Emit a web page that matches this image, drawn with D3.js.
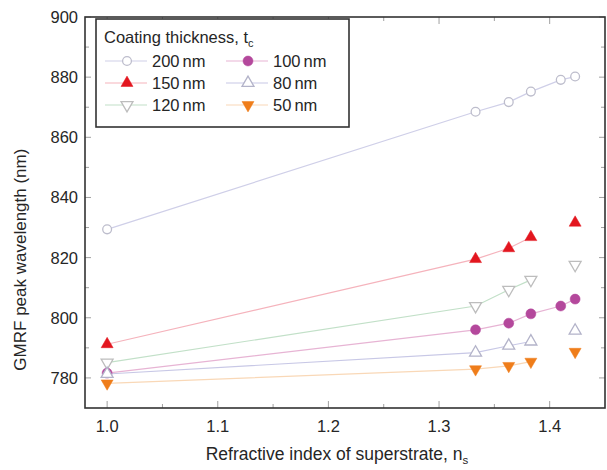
<!DOCTYPE html>
<html lang="en">
<head>
<meta charset="UTF-8">
<title>GMRF peak wavelength vs superstrate index</title>
<script src="https://d3js.org/d3.v7.min.js"></script>
<style>
    body { margin: 0; background: #fff; }
    svg text { font-family: "Liberation Sans", Arial, Helvetica, sans-serif; fill: #262626; }
</style>
</head>
<body>
<script>

// refractive index of the superstrate (x values)
const ns = [1.0, 1.333, 1.363, 1.383, 1.41, 1.423]

// peak wavelength (nm) for each coating thickness, null = not measured / not joined
const wl200 = [829.4, 868.5, 871.7, 875.2, 879.1, 880.2]
const wl150 = [791.2, 819.5, 823.1, 826.8, null, 831.6]
const wl120 = [785.1, 803.9, 809.3, 812.6, null, 817.6]
const wl100 = [781.6, 796.0, 798.2, 801.3, 803.9, 806.2]
const wl80  = [781.3, 788.4, 790.7, 792.1, null, 795.7]
const wl50  = [778.2, 782.9, 784.0, 785.4, null, 788.7]

const xTicks = [1.0, 1.1, 1.2, 1.3, 1.4]
const yTicks = [780, 800, 820, 840, 860, 880, 900]

const series = [
    {label: "200 nm", values: wl200, shape: "circle",  fill: "none",    stroke: "#bdbdcc", line: "#cfcfe8"},
    {label: "150 nm", values: wl150, shape: "up",      fill: "#e3161f", stroke: "#e3161f", line: "#f5b3bc"},
    {label: "120 nm", values: wl120, shape: "down",    fill: "none",    stroke: "#bdbdbd", line: "#c2e0c8"},
    {label: "100 nm", values: wl100, shape: "circle",  fill: "#b4489c", stroke: "#b4489c", line: "#e7b4d4"},
    {label: "80 nm",  values: wl80,  shape: "up",      fill: "none",    stroke: "#b3b3c9", line: "#c8c8e6"},
    {label: "50 nm",  values: wl50,  shape: "down",    fill: "#ef7d1a", stroke: "#ef7d1a", line: "#f9d8b7"}
]

const W = 607, H = 470
const MARGIN = {TOP: 17, RIGHT: 2, BOTTOM: 62, LEFT: 85}
const WIDTH = W - MARGIN.LEFT - MARGIN.RIGHT
const HEIGHT = H - MARGIN.TOP - MARGIN.BOTTOM

const svg = d3.select("body").append("svg")
    .attr("width", W)
    .attr("height", H)

const g = svg.append("g")
    .attr("transform", `translate(${MARGIN.LEFT}, ${MARGIN.TOP})`)

const x = d3.scaleLinear().domain([0.98, 1.45]).range([0, WIDTH])
const y = d3.scaleLinear().domain([770, 900]).range([HEIGHT, 0])

// inward ticks, major and minor, on all four sides
const tickCol = "#a0a0a0"
function vTicks(vals, len, side) {
    vals.forEach(v => {
        const yy = y(v)
        const x0 = side === "left" ? 0 : WIDTH
        const x1 = side === "left" ? len : WIDTH - len
        g.append("line").attr("x1", x0).attr("x2", x1).attr("y1", yy).attr("y2", yy)
            .attr("stroke", tickCol).attr("stroke-width", 1)
    })
}
function hTicks(vals, len, side) {
    vals.forEach(v => {
        const xx = x(v)
        const y0 = side === "bottom" ? HEIGHT : 0
        const y1 = side === "bottom" ? HEIGHT - len : len
        g.append("line").attr("x1", xx).attr("x2", xx).attr("y1", y0).attr("y2", y1)
            .attr("stroke", tickCol).attr("stroke-width", 1)
    })
}
const yMinor = d3.range(790, 900, 20)
const xMinor = [1.05, 1.15, 1.25, 1.35]
;["left", "right"].forEach(s => { vTicks(yTicks, 6, s); vTicks(yMinor, 4, s) })
;["bottom", "top"].forEach(s => { hTicks(xTicks, 7, s); hTicks(xMinor, 4, s) })

// tick labels
g.selectAll(".ylab").data(yTicks).enter().append("text")
    .attr("x", -7).attr("y", d => y(d)).attr("dy", "0.36em")
    .attr("text-anchor", "end").attr("font-size", "16.5px")
    .text(d => d)

g.selectAll(".xlab").data(xTicks).enter().append("text")
    .attr("x", d => x(d)).attr("y", HEIGHT + 24)
    .attr("text-anchor", "middle").attr("font-size", "16.5px")
    .text(d => d.toFixed(1))

// axis titles
const xt = g.append("text")
    .attr("x", WIDTH / 2 - 8).attr("y", HEIGHT + 52)
    .attr("text-anchor", "middle").attr("font-size", "17.5px")
xt.append("tspan").text("Refractive index of superstrate, n")
xt.append("tspan").attr("font-size", "11.5px").attr("dy", 4).text("s")

g.append("text")
    .attr("transform", `translate(${-MARGIN.LEFT + 26}, ${y(820) + 2}) rotate(-90)`)
    .attr("text-anchor", "middle").attr("font-size", "17px")
    .text("GMRF peak wavelength (nm)")

// markers
const triUp = d3.symbol().type(d3.symbolTriangle).size(62)
function drawMarker(sel, s, cx, cy) {
    if (s.shape === "circle") {
        sel.append("circle").attr("cx", cx).attr("cy", cy)
            .attr("r", s.fill === "none" ? 4.4 : 5)
            .attr("fill", s.fill === "none" ? "#fff" : s.fill)
            .attr("stroke", s.stroke).attr("stroke-width", s.fill === "none" ? 1.3 : 0.5)
    } else {
        const rot = s.shape === "down" ? 180 : 0
        sel.append("path").attr("d", triUp())
            .attr("transform", `translate(${cx}, ${cy}) rotate(${rot})`)
            .attr("fill", s.fill === "none" ? "#fff" : s.fill)
            .attr("stroke", s.stroke).attr("stroke-width", s.fill === "none" ? 1.3 : 0.5)
            .attr("stroke-linejoin", "miter")
    }
}

const valueline = d3.line()
    .defined(d => d[1] != null)
    .x(d => x(d[0]))
    .y(d => y(d[1]))

series.forEach(s => {
    const pts = ns.map((n, i) => [n, s.values[i]])
    g.append("path")
        .datum(pts)
        .attr("d", valueline)
        .attr("fill", "none")
        .attr("stroke", s.line)
        .attr("stroke-width", 1.2)
})
series.forEach(s => {
    ns.forEach((n, i) => {
        if (s.values[i] != null) drawMarker(g, s, x(n), y(s.values[i]))
    })
})

// frame
g.append("rect")
    .attr("width", WIDTH).attr("height", HEIGHT)
    .attr("fill", "none").attr("stroke", "#333").attr("stroke-width", 1.6)

// legend
const lg = svg.append("g").attr("transform", "translate(96, 19)")
lg.append("rect").attr("width", 253).attr("height", 108)
    .attr("fill", "#fff").attr("stroke", "#333").attr("stroke-width", 1.6)
const lt = lg.append("text").attr("x", 8).attr("y", 24).attr("font-size", "16.5px")
lt.append("tspan").text("Coating thickness, t")
lt.append("tspan").attr("font-size", "11px").attr("dy", 4).text("c")

series.forEach((s, i) => {
    const col = i < 3 ? 0 : 1
    const row = i % 3
    const cx = col === 0 ? 31 : 152
    const cy = 42 + row * 22
    const row_g = lg.append("g")
    row_g.append("line").attr("x1", cx - 22).attr("x2", cx + 20)
        .attr("y1", cy).attr("y2", cy)
        .attr("stroke", s.line).attr("stroke-width", 1.2)
    drawMarker(row_g, s, cx, cy)
    row_g.append("text").attr("x", cx + 25).attr("y", cy + 5.5)
        .attr("font-size", "16.5px").attr("word-spacing", "-1.5px").text(s.label)
})

</script>
</body>
</html>
